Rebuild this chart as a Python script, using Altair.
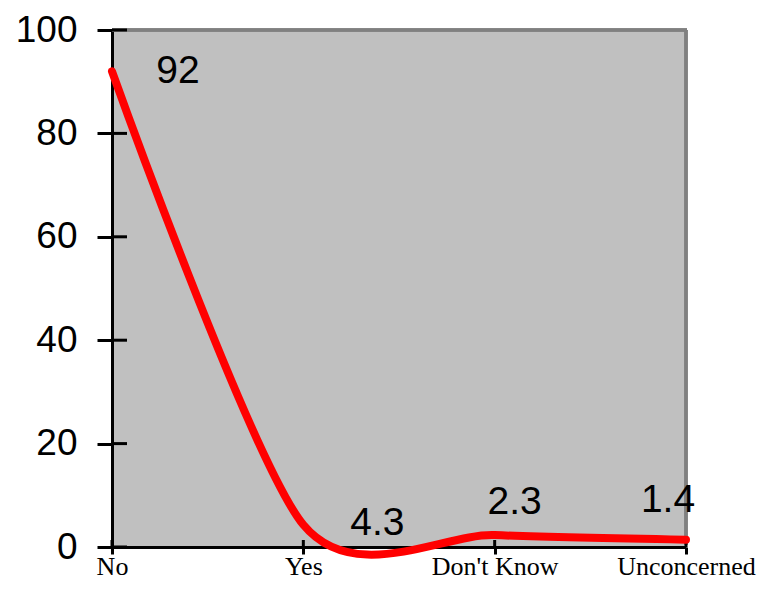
import altair as alt
import pandas as pd

categories = ["No", "Yes", "Don't Know", "Unconcerned"]
values = [92, 4.3, 2.3, 1.4]
label_texts = ["92", "4.3", "2.3", "1.4"]
y_ticks = [0, 20, 40, 60, 80, 100]

# label offsets (layout)
label_dx = [66, 74, 20, -18]
label_dy = [0, -2, -33, -40]

W, H = 574, 517

df = pd.DataFrame({"cat": categories, "val": values, "lab": label_texts})
ticks_df = pd.DataFrame({"t": y_ticks})

xscale = alt.Scale(type="point", padding=0)
xaxis = alt.Axis(title=None, labelAngle=0, labelFont="Liberation Serif",
                 labelFontSize=26, labelColor="black", labelBaseline="alphabetic",
                 tickSize=7, tickWidth=3, tickColor="black", labelPadding=20,
                 domainColor="black", domainWidth=3, grid=False, zindex=0)
yscale = alt.Scale(domain=[0, 100], nice=False, zero=False)
yaxis = alt.Axis(title=None, values=y_ticks, labelFont="Liberation Sans",
                 labelFontSize=37, labelColor="black", tickSize=15, tickWidth=3,
                 tickColor="black", labelPadding=20, domainColor="black",
                 domainWidth=3, grid=False, zindex=0)

xenc = alt.X("cat:N", sort=categories, scale=xscale, axis=xaxis)
yenc = alt.Y("val:Q", scale=yscale, axis=yaxis)

base = alt.Chart(df)

line = base.mark_line(color="#FF0000", strokeWidth=8, interpolate="cardinal", tension=0.2,
                      strokeCap="round", strokeJoin="round", clip=False).encode(x=xenc, y=yenc)

inner_y = alt.Chart(ticks_df).mark_rule(color="black", strokeWidth=3).encode(
    x=alt.value(0), x2=alt.value(15), y=alt.Y("t:Q", scale=yscale, axis=yaxis))
inner_x = base.mark_rule(color="black", strokeWidth=3).encode(
    x=xenc, y=alt.value(H - 7), y2=alt.value(H))

top_border = base.mark_rule(color="#808080", strokeWidth=3).encode(
    x=alt.value(0), x2=alt.value(W + 1), y=alt.value(0))
right_border = base.mark_rule(color="#808080", strokeWidth=3).encode(
    x=alt.value(W), y=alt.value(0), y2=alt.value(H - 2))

texts = []
for c, dx, dy in zip(categories, label_dx, label_dy):
    texts.append(
        base.transform_filter(alt.datum.cat == c).mark_text(
            font="Liberation Sans", fontSize=39, color="black", align="center",
            baseline="middle", dx=dx, dy=dy).encode(x=xenc, y=yenc, text="lab:N"))

chart = alt.layer(top_border, right_border, inner_y, inner_x, line, *texts).properties(
    width=W, height=H,
    background="white",
    autosize=alt.AutoSizeParams(type="none"),
    padding={"left": 104, "top": 22, "right": 75, "bottom": 35},
).configure_view(fill="#C0C0C0", stroke=None)

chart.save("out.html", embed_options={"renderer": "svg", "actions": False})
